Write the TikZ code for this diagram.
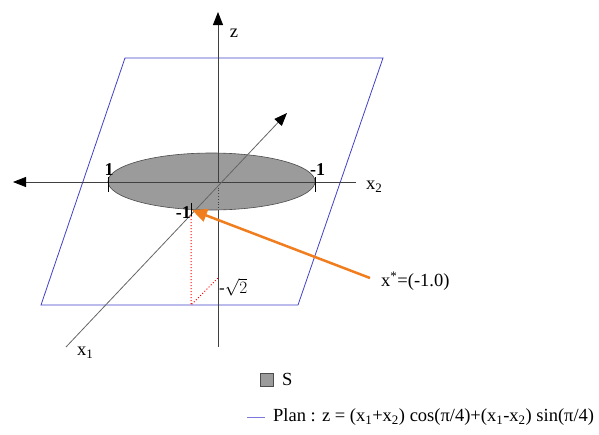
\documentclass[tikz,border=0pt]{standalone}
\usepackage{fontspec}
\setmainfont{Liberation Serif}
\usetikzlibrary{arrows.meta,shapes.geometric}
\definecolor{planeblue}{RGB}{64,64,200}
\definecolor{hitorange}{RGB}{240,125,30}
\definecolor{sgray}{RGB}{155,155,155}
\begin{document}
\begin{tikzpicture}[x=1pt,y=-1pt]
\tikzset{
 axisline/.style={draw=black!75, line width=0.8pt, -{Triangle[length=13pt,width=10pt,color=black]}},
 planeline/.style={draw=planeblue, line width=0.8pt},
 tickmark/.style={draw=black, line width=1pt},
 ticklbl/.style={font=\fontsize{18}{18}\bfseries\selectfont, inner sep=0pt},
 lbl/.style={font=\fontsize{17}{17}\selectfont, inner sep=0pt},
 big/.style={font=\fontsize{18.5}{19}\selectfont, inner sep=0pt},
 helper/.style={draw=red, dotted, line width=1pt},
 hit/.style={draw=hitorange, line width=2.5pt, -{Triangle[length=15pt,width=13pt]}},
 setS/.style={ellipse, draw=black!70, fill=sgray, line width=0.6pt, inner sep=0pt},
}
\useasboundingbox (0,0) rectangle (599,434);
% plane
\coordinate (p1) at (125,58);
\coordinate (p2) at (383,58);
\coordinate (p3) at (298,305);
\coordinate (p4) at (41,305);
\draw[planeline] (p1)--(p2)--(p3)--(p4)--cycle;
% set S
\node (S) [setS, minimum width=207pt, minimum height=57pt] at (211.5,181.5) {};
% axes
\coordinate (O) at (218,182);
\coordinate (zt) at (218,12);
\coordinate (zb) at (218,347);
\coordinate (zh) at (218,210);
\coordinate (x2l) at (13,182);
\coordinate (x2r) at (356,182);
\coordinate (x1s) at (66,347);
\coordinate (x1t) at (287,113);
\draw[axisline] (O) -- (zt);
\draw[draw=black!75, line width=0.8pt, dotted] (O) -- (zh);
\draw[draw=black!75, line width=0.8pt] (zh) -- (zb);
\draw[axisline] (x2r) -- (x2l);
\draw[axisline, draw=black!60] (x1s) -- (x1t);
% ticks
\coordinate (ta1) at (108,177);
\coordinate (ta2) at (108,192);
\coordinate (tb1) at (315,177);
\coordinate (tb2) at (315,192);
\coordinate (tc1) at (191,203);
\coordinate (tc2) at (191,216);
\draw[tickmark] (ta1) -- (ta2);
\draw[tickmark] (tb1) -- (tb2);
\draw[tickmark] (tc1) -- (tc2);
\node (la) [ticklbl] at (109,170) {1};
\node (lb) [ticklbl, anchor=west] at (310,170) {-1};
\node (lc) [ticklbl, anchor=east] at (191,213) {-1};
% helper lines
\coordinate (m) at (191,216);
\coordinate (mb) at (191,305);
\coordinate (mz) at (218,278);
\draw[helper] (m) -- (mb) -- (mz);
\node (ls) [lbl, anchor=west] at (219,287) {-$\sqrt{2}$};
% optimum arrow
\coordinate (hs) at (370,278);
\coordinate (hp) at (192,210);
\draw[hit] (hs) -- (hp);
% axis labels
\node (lz) [big] at (234,33) {z};
\node (lx2) [big, anchor=west] at (366,187) {x\textsubscript{2}};
\node (lx1) [big, anchor=west] at (77,353) {x\textsubscript{1}};
\node (lxs) [big, anchor=west] at (381,281) {x\textsuperscript{*}=(-1.0)};
% legend
\node (legS) [draw=black!70, fill=sgray, minimum size=13pt, inner sep=0pt] at (266.5,379.5) {};
\node (legSt) [big, anchor=west] at (282,379) {S};
\coordinate (l1) at (247,417);
\coordinate (l2) at (265,417);
\draw[planeline, draw=planeblue!70] (l1) -- (l2);
\node (legP) [big, anchor=west] at (273,417) {Plan : z = (x\textsubscript{1}+x\textsubscript{2}) cos(π/4)+(x\textsubscript{1}-x\textsubscript{2}) sin(π/4)};
\end{tikzpicture}
\end{document}
